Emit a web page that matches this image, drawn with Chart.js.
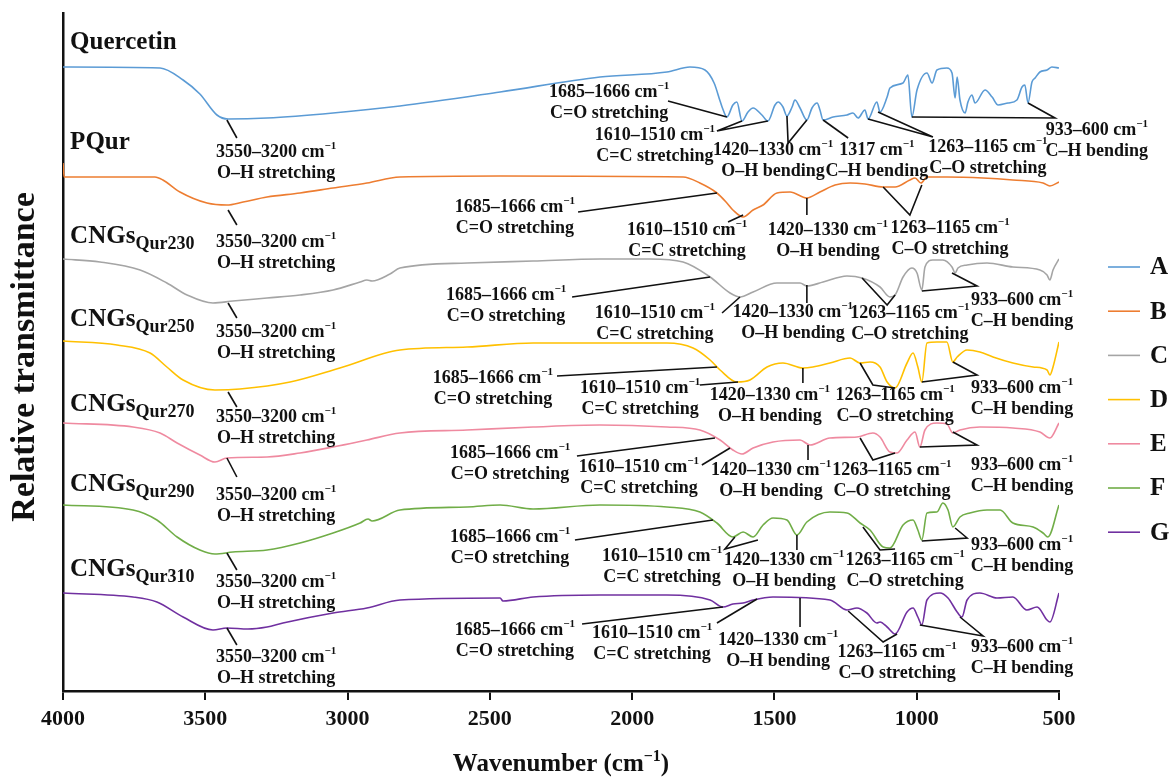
<!DOCTYPE html>
<html>
<head>
<meta charset="utf-8">
<script src="https://cdn.jsdelivr.net/npm/chart.js@4"></script>
<style>
  html, body { margin: 0; padding: 0; background: #fff; }
  #wrap { width: 1176px; height: 778px; }
</style>
</head>
<body>
<div id="wrap"><canvas id="ftir" width="1176" height="778"></canvas></div>
<script>
'use strict';

// Legend keys and sample names (top to bottom)
var legendKeys = ['A', 'B', 'C', 'D', 'E', 'F', 'G'];
var sampleMain = ['Quercetin', 'PQur', 'CNGs', 'CNGs', 'CNGs', 'CNGs', 'CNGs'];
var sampleSub = ['', '', 'Qur230', 'Qur250', 'Qur270', 'Qur290', 'Qur310'];
var sampleLabelT = [64.8, 54.8, 45.4, 37.1, 28.6, 20.6, 12.1];
var lineColors = ['#5B9BD5', '#ED7D31', '#A5A5A5', '#FFC000', '#EF8AA0', '#70AD47', '#7030A0'];

// Axis ticks
var xTicks = [4000, 3500, 3000, 2500, 2000, 1500, 1000, 500];

// Spectra: wavenumber (cm-1) and offset relative transmittance
var waveA = [4000,3659,3578,3519,3459,3420,3283,3051,2816,2464,2113,1878,1797,1744,1712,1691,1684,1667,1646,1632,1614,1593,1575,1544,1523,1498,1487,1470,1456,1438,1428,1410,1386,1368,1350,1340,1329,1294,1245,1224,1206,1182,1171,1140,1129,1104,1094,1048,1031,1017,999,964,946,929,894,876,865,858,848,830,820,806,795,760,735,714,679,648,630,620,609,595,584,567,542,525,500];
var transA = [62.4,62.3,61.1,59.7,57.6,57.2,57.3,57.8,58.5,59.9,61.4,61.9,62.4,62.1,60.8,59.0,58.4,57.4,58.6,58.9,57.0,57.9,58.3,57.6,57.0,58.6,58.9,58.4,57.5,58.4,59.1,58.3,57.1,58.3,58.8,58.1,57.1,57.4,57.6,57.8,57.3,58.1,57.2,58.9,57.9,59.4,60.3,60.8,61.6,57.4,60.1,61.8,60.8,62.1,62.3,61.8,59.3,61.4,59.1,57.8,58.9,59.6,58.8,60.1,59.4,58.6,58.8,59.1,60.4,60.6,58.8,60.9,61.3,61.9,62.1,62.4,62.3];

var waveB = [4000,3996,3677,3649,3589,3494,3424,3367,3283,3167,3051,2932,2816,2464,1821,1762,1702,1667,1646,1610,1575,1540,1491,1445,1386,1340,1287,1234,1182,1118,1076,1024,1006,985,964,894,767,662,556,532,500];
var transB = [52.8,51.4,51.4,51.1,49.9,48.8,48.6,48.9,49.4,49.8,50.3,50.8,51.4,51.5,51.4,50.8,49.8,48.8,48.1,47.4,48.1,48.6,49.8,49.9,49.3,49.9,50.6,50.8,50.7,50.4,50.4,51.1,51.3,50.8,51.4,51.4,51.3,51.1,50.8,50.5,50.9];

var waveC = [4000,3870,3729,3635,3564,3473,3403,3283,3167,3051,2956,2932,2914,2851,2816,2580,2348,2113,1937,1821,1726,1656,1621,1575,1491,1410,1386,1329,1245,1192,1129,1094,1076,1048,1017,999,982,971,943,908,876,865,855,823,753,662,567,542,532,521,500];
var transC = [43.2,42.9,42.1,40.8,39.6,38.8,39.0,39.3,39.6,40.1,40.9,41.1,41.0,41.7,42.3,42.8,43.0,43.2,43.2,42.9,41.4,39.8,39.4,39.9,40.8,40.8,40.5,40.9,41.5,41.3,40.4,39.4,39.6,41.4,42.3,41.8,40.1,42.4,43.1,43.1,42.4,41.8,42.3,42.6,42.8,42.4,42.1,41.6,41.1,42.1,43.2];

var waveD = [4000,3810,3694,3635,3578,3466,3378,3202,3027,2816,2580,2348,2113,1878,1786,1726,1691,1632,1586,1526,1470,1400,1365,1305,1234,1199,1164,1129,1104,1076,1034,1013,996,982,964,929,894,873,858,823,778,732,662,591,542,532,521,500];
var transD = [35.0,34.6,33.8,32.4,31.1,30.1,30.2,30.9,32.3,34.1,34.4,34.8,34.8,34.8,34.3,33.1,32.1,30.9,31.1,32.4,32.8,32.3,32.4,32.8,33.3,32.8,32.9,32.4,30.9,30.3,32.8,33.8,32.4,30.9,34.8,34.9,34.9,32.9,33.4,34.1,33.9,33.4,32.8,32.4,32.1,31.6,32.4,34.9];

var waveE = [4000,3754,3659,3599,3519,3466,3424,3283,3167,3051,2932,2816,2580,2348,2113,1878,1762,1691,1646,1614,1575,1505,1410,1375,1305,1210,1154,1129,1094,1069,1034,1006,989,971,929,894,873,848,778,662,567,532,500];
var transE = [26.8,26.4,25.8,24.8,23.6,22.9,23.3,23.4,23.8,24.4,25.1,25.8,26.1,26.4,26.6,26.4,26.1,25.1,24.1,23.7,24.3,24.9,25.1,24.6,25.3,25.4,25.8,25.4,23.9,23.8,25.1,25.9,24.4,26.1,26.8,26.7,25.8,26.1,26.4,26.3,25.9,25.3,26.8];

var waveF = [4000,3754,3670,3599,3519,3466,3403,3283,3167,3051,2956,2928,2914,2816,2580,2464,2348,2113,1878,1762,1702,1646,1610,1575,1540,1505,1456,1421,1386,1305,1245,1199,1164,1118,1094,1048,1013,996,982,964,929,908,890,873,848,813,753,707,662,591,556,539,500];
var transF = [18.6,18.1,17.1,15.4,14.1,13.7,13.9,14.1,14.8,15.8,16.8,17.2,17.0,18.1,18.4,18.6,18.2,18.6,18.4,17.9,16.8,15.4,15.9,15.4,16.6,17.3,17.1,15.6,16.9,17.9,17.8,16.8,16.1,14.4,14.3,16.6,17.1,16.1,15.1,17.8,17.9,18.8,18.1,16.4,17.4,17.8,18.1,18.1,16.8,16.4,15.8,15.4,18.6];

var waveG = [4000,3754,3670,3578,3473,3424,3350,3283,3227,3051,2932,2816,2464,2454,2348,2113,1878,1726,1681,1646,1610,1575,1505,1305,1245,1210,1175,1140,1129,1104,1076,1034,1013,996,982,964,918,890,858,841,823,778,718,662,613,577,542,532,500];
var transG = [9.8,9.4,8.9,7.4,6.1,6.3,6.2,6.4,6.8,7.8,8.3,9.1,9.3,9.0,9.4,9.6,9.6,9.1,8.4,8.7,8.8,9.1,9.4,9.1,8.1,8.3,7.8,6.8,6.9,6.4,5.7,7.9,8.3,7.4,6.6,9.1,9.8,9.3,7.9,7.4,9.1,9.8,9.3,9.4,8.1,8.4,7.1,6.9,9.8];

// Band assignments: text lines, anchor of the first line, leader polyline (all in wavenumber / transmittance)
var bandNotes = [
  // Quercetin
  { text: ['3550–3200 cm⁻¹', 'O–H stretching'], at: [3251, 53.9], leader: [[3424, 57.1], [3389, 55.3]] },
  { text: ['1685–1666 cm⁻¹', 'C=O stretching'], at: [2081, 59.9], leader: [[1874, 59.0], [1667, 57.4]] },
  { text: ['1610–1510 cm⁻¹', 'C=C stretching'], at: [1920, 55.6], leader: [[1614, 57.0], [1702, 56.0], [1523, 57.0]] },
  { text: ['1420–1330 cm⁻¹', 'O–H bending'], at: [1505, 54.1], leader: [[1456, 57.5], [1452, 54.8], [1386, 57.1]] },
  { text: ['1317 cm⁻¹', 'C–H bending'], at: [1140, 54.1], leader: [[1329, 57.1], [1241, 55.3]] },
  { text: ['1263–1165 cm⁻¹', 'C–O stretching'], at: [750, 54.4], leader: [[1171, 57.2], [943, 55.4], [1136, 57.9]] },
  { text: ['933–600 cm⁻¹', 'C–H bending'], at: [367, 56.1], leader: [[1017, 57.4], [514, 57.3], [609, 58.8]] },
  // PQur
  { text: ['3550–3200 cm⁻¹', 'O–H stretching'], at: [3251, 44.9], leader: [[3420, 48.1], [3389, 46.6]] },
  { text: ['1685–1666 cm⁻¹', 'C=O stretching'], at: [2412, 48.4], leader: [[2190, 47.9], [1702, 49.8]] },
  { text: ['1610–1510 cm⁻¹', 'C=C stretching'], at: [1807, 46.1], leader: [[1663, 46.9], [1610, 47.6]] },
  { text: ['1420–1330 cm⁻¹', 'O–H bending'], at: [1312, 46.1], leader: [[1386, 49.3], [1386, 47.6]] },
  { text: ['1263–1165 cm⁻¹', 'C–O stretching'], at: [883, 46.3], leader: [[1118, 50.4], [1024, 47.6], [982, 50.6]] },
  // CNGs Qur230
  { text: ['3550–3200 cm⁻¹', 'O–H stretching'], at: [3251, 35.9], leader: [[3420, 38.8], [3389, 37.3]] },
  { text: ['1685–1666 cm⁻¹', 'C=O stretching'], at: [2443, 39.6], leader: [[2211, 39.4], [1726, 41.4]] },
  { text: ['1610–1510 cm⁻¹', 'C=C stretching'], at: [1920, 37.8], leader: [[1684, 37.8], [1621, 39.4]] },
  { text: ['1420–1330 cm⁻¹', 'O–H bending'], at: [1435, 37.9], leader: [[1386, 40.6], [1386, 38.8]] },
  { text: ['1263–1165 cm⁻¹', 'C–O stretching'], at: [1024, 37.8], leader: [[1192, 41.3], [1104, 38.6], [1076, 39.6]] },
  { text: ['933–600 cm⁻¹', 'C–H bending'], at: [630, 39.1], leader: [[982, 40.0], [788, 40.5], [876, 41.8]] },
  // CNGs Qur250
  { text: ['3550–3200 cm⁻¹', 'O–H stretching'], at: [3251, 27.4], leader: [[3420, 29.9], [3389, 28.4]] },
  { text: ['1685–1666 cm⁻¹', 'C=O stretching'], at: [2489, 31.3], leader: [[2264, 31.5], [1702, 32.4]] },
  { text: ['1610–1510 cm⁻¹', 'C=C stretching'], at: [1972, 30.3], leader: [[1762, 30.6], [1628, 30.9]] },
  { text: ['1420–1330 cm⁻¹', 'O–H bending'], at: [1516, 29.6], leader: [[1400, 32.3], [1400, 30.8]] },
  { text: ['1263–1165 cm⁻¹', 'C–O stretching'], at: [1076, 29.6], leader: [[1199, 32.8], [1154, 30.6], [1076, 30.3]] },
  { text: ['933–600 cm⁻¹', 'C–H bending'], at: [630, 30.3], leader: [[982, 30.9], [788, 31.6], [873, 32.9]] },
  // CNGs Qur270
  { text: ['3550–3200 cm⁻¹', 'O–H stretching'], at: [3251, 19.6], leader: [[3424, 23.3], [3389, 21.4]] },
  { text: ['1685–1666 cm⁻¹', 'C=O stretching'], at: [2429, 23.8], leader: [[2194, 23.5], [1709, 25.3]] },
  { text: ['1610–1510 cm⁻¹', 'C=C stretching'], at: [1976, 22.4], leader: [[1755, 22.6], [1656, 24.3]] },
  { text: ['1420–1330 cm⁻¹', 'O–H bending'], at: [1512, 22.1], leader: [[1382, 24.6], [1382, 23.1]] },
  { text: ['1263–1165 cm⁻¹', 'C–O stretching'], at: [1087, 22.1], leader: [[1199, 25.3], [1154, 23.1], [1076, 23.8]] },
  { text: ['933–600 cm⁻¹', 'C–H bending'], at: [630, 22.6], leader: [[989, 24.4], [788, 24.6], [873, 25.9]] },
  // CNGs Qur290
  { text: ['3550–3200 cm⁻¹', 'O–H stretching'], at: [3251, 10.9], leader: [[3424, 13.8], [3389, 12.1]] },
  { text: ['1685–1666 cm⁻¹', 'C=O stretching'], at: [2429, 15.4], leader: [[2201, 15.1], [1716, 17.1]] },
  { text: ['1610–1510 cm⁻¹', 'C=C stretching'], at: [1895, 13.5], leader: [[1639, 15.4], [1674, 14.2], [1558, 15.1]] },
  { text: ['1420–1330 cm⁻¹', 'O–H bending'], at: [1466, 13.1], leader: [[1421, 15.6], [1421, 14.1]] },
  { text: ['1263–1165 cm⁻¹', 'C–O stretching'], at: [1041, 13.1], leader: [[1189, 16.4], [1129, 14.1], [1076, 14.2]] },
  { text: ['933–600 cm⁻¹', 'C–H bending'], at: [630, 14.6], leader: [[982, 15.0], [823, 15.3], [865, 16.3]] },
  // CNGs Qur310
  { text: ['3550–3200 cm⁻¹', 'O–H stretching'], at: [3251, 3.4], leader: [[3424, 6.3], [3389, 4.6]] },
  { text: ['1685–1666 cm⁻¹', 'C=O stretching'], at: [2412, 6.1], leader: [[2176, 6.7], [1681, 8.4]] },
  { text: ['1610–1510 cm⁻¹', 'C=C stretching'], at: [1930, 5.8], leader: [[1702, 6.8], [1561, 9.2]] },
  { text: ['1420–1330 cm⁻¹', 'O–H bending'], at: [1487, 5.1], leader: [[1410, 9.3], [1410, 6.4]] },
  { text: ['1263–1165 cm⁻¹', 'C–O stretching'], at: [1069, 3.9], leader: [[1241, 8.0], [1118, 4.9], [1069, 5.7]] },
  { text: ['933–600 cm⁻¹', 'C–H bending'], at: [630, 4.4], leader: [[989, 6.6], [767, 5.5], [848, 7.4]] }
];

var FONT = '"Liberation Serif", "Times New Roman", serif';

var toPoints = function(xs, ys) {
  return xs.map(function(x, i) { return { x: x, y: ys[i] }; });
};

var spectra = [
  toPoints(waveA, transA), toPoints(waveB, transB), toPoints(waveC, transC),
  toPoints(waveD, transD), toPoints(waveE, transE), toPoints(waveF, transF),
  toPoints(waveG, transG)
];

/**
 * Draw a string where "⁻¹" becomes a real superscript "−1".
 */
var drawRich = function(ctx, str, x, y, size, align) {
  var parts = [];
  var idx = str.indexOf('⁻¹');
  if (idx < 0) {
    parts.push({ t: str, sup: false });
  } else {
    parts.push({ t: str.slice(0, idx), sup: false });
    parts.push({ t: '−1', sup: true });
    if (str.slice(idx + 2)) parts.push({ t: str.slice(idx + 2), sup: false });
  }
  var supSize = Math.round(size * 0.62);
  var total = 0;
  parts.forEach(function(p) {
    ctx.font = 'bold ' + (p.sup ? supSize : size) + 'px ' + FONT;
    p.w = ctx.measureText(p.t).width;
    total += p.w;
  });
  var cx = align === 'left' ? x : x - total / 2;
  ctx.textAlign = 'left';
  ctx.textBaseline = 'middle';
  parts.forEach(function(p) {
    ctx.font = 'bold ' + (p.sup ? supSize : size) + 'px ' + FONT;
    ctx.fillText(p.t, cx, p.sup ? y - size * 0.33 : y);
    cx += p.w;
  });
};

var decorations = {
  id: 'decorations',
  afterDatasetsDraw: function(chart) {
    var ctx = chart.ctx;
    var xs = chart.scales.x;
    var ys = chart.scales.y;
    var area = chart.chartArea;
    ctx.save();
    ctx.fillStyle = '#111';
    ctx.strokeStyle = '#111';

    // Band leaders and labels
    bandNotes.forEach(function(n) {
      ctx.lineWidth = 1.6;
      ctx.beginPath();
      n.leader.forEach(function(p, i) {
        var px = xs.getPixelForValue(p[0]);
        var py = ys.getPixelForValue(p[1]);
        if (i === 0) ctx.moveTo(px, py); else ctx.lineTo(px, py);
      });
      ctx.stroke();
      var tx = xs.getPixelForValue(n.at[0]);
      var ty = ys.getPixelForValue(n.at[1]);
      n.text.forEach(function(line, i) {
        drawRich(ctx, line, tx, ty + i * 21, 18, 'center');
      });
    });

    // Sample names
    sampleMain.forEach(function(name, i) {
      var lx = xs.getPixelForValue(3975);
      var ly = ys.getPixelForValue(sampleLabelT[i]);
      ctx.textAlign = 'left';
      ctx.textBaseline = 'middle';
      ctx.font = 'bold 25px ' + FONT;
      ctx.fillText(name, lx, ly);
      if (sampleSub[i]) {
        var w = ctx.measureText(name).width;
        ctx.font = 'bold 18px ' + FONT;
        ctx.fillText(sampleSub[i], lx + w, ly + 7);
      }
    });

    // Legend
    legendKeys.forEach(function(key, i) {
      var ly = 267 + i * 44.2;
      ctx.strokeStyle = lineColors[i];
      ctx.lineWidth = 1.6;
      ctx.beginPath();
      ctx.moveTo(1108, ly);
      ctx.lineTo(1140, ly);
      ctx.stroke();
      ctx.font = 'bold 25px ' + FONT;
      ctx.textAlign = 'left';
      ctx.textBaseline = 'middle';
      ctx.fillText(key, 1150, ly + 1);
    });

    // Axis titles
    drawRich(ctx, 'Wavenumber (cm⁻¹)', (area.left + area.right) / 2, 765, 25, 'center');
    ctx.translate(25, (area.top + area.bottom) / 2 + 5);
    ctx.rotate(-Math.PI / 2);
    ctx.font = 'bold 34px ' + FONT;
    ctx.textAlign = 'center';
    ctx.textBaseline = 'middle';
    ctx.fillText('Relative transmittance', 0, 0);
    ctx.restore();
  }
};

var chart = new Chart(document.getElementById('ftir').getContext('2d'), {
  type: 'line',
  data: {
    datasets: spectra.map(function(pts, i) {
      return {
        label: legendKeys[i],
        data: pts,
        borderColor: lineColors[i],
        borderWidth: 1.6,
        pointRadius: 0,
        fill: false,
        cubicInterpolationMode: 'monotone'
      };
    })
  },
  options: {
    responsive: false,
    animation: false,
    devicePixelRatio: 1,
    layout: { padding: { left: 63, right: 117, top: 13, bottom: 0 } },
    plugins: { legend: { display: false }, tooltip: { enabled: false } },
    scales: {
      x: {
        type: 'linear',
        reverse: true,
        min: 500,
        max: 4000,
        afterFit: function(scale) { scale.height = 87; },
        afterBuildTicks: function(scale) {
          scale.ticks = xTicks.map(function(v) { return { value: v }; });
        },
        ticks: {
          color: '#111',
          padding: 6,
          maxRotation: 0,
          font: { family: FONT, size: 22, weight: 'bold' },
          callback: function(v) { return String(v); }
        },
        grid: { display: true, drawOnChartArea: false, drawTicks: true, tickLength: 9, color: '#111', lineWidth: 2 },
        border: { display: true, color: '#111', width: 2.5 }
      },
      y: {
        min: 0,
        max: 67.8,
        afterFit: function(scale) { scale.width = 0; },
        ticks: { display: false },
        grid: { display: false },
        border: { display: true, color: '#111', width: 2.5 }
      }
    }
  },
  plugins: [decorations]
});
</script>
</body>
</html>
